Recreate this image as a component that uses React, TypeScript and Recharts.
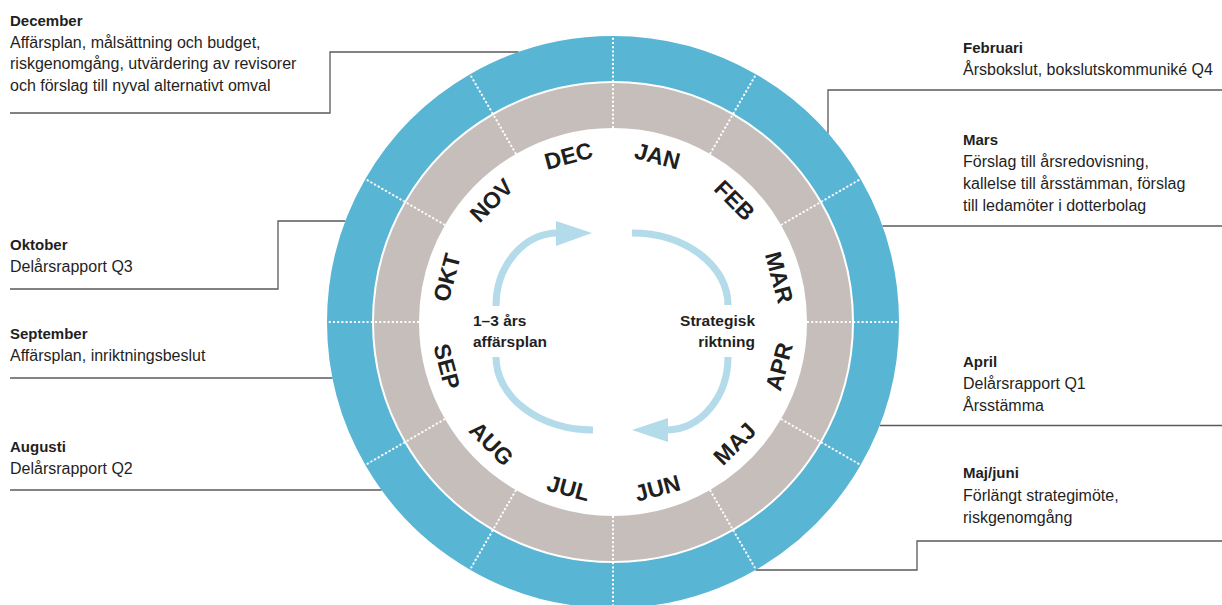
import React from 'react';
import { PieChart, Pie, Customized } from 'recharts';

// months of the year wheel, clockwise from the top
const months = ['JAN', 'FEB', 'MAR', 'APR', 'MAJ', 'JUN', 'JUL', 'AUG', 'SEP', 'OKT', 'NOV', 'DEC'];
const monthShare = [1, 1, 1, 1, 1, 1, 1, 1, 1, 1, 1, 1];

const calloutTitles = ['December', 'Oktober', 'September', 'Augusti', 'Februari', 'Mars', 'April', 'Maj/juni'];
const calloutTexts = [
  ['Affärsplan, målsättning och budget,', 'riskgenomgång, utvärdering av revisorer', 'och förslag till nyval alternativt omval'],
  ['Delårsrapport Q3'],
  ['Affärsplan, inriktningsbeslut'],
  ['Delårsrapport Q2'],
  ['Årsbokslut, bokslutskommuniké Q4'],
  ['Förslag till årsredovisning,', 'kallelse till årsstämman, förslag', 'till ledamöter i dotterbolag'],
  ['Delårsrapport Q1', 'Årsstämma'],
  ['Förlängt strategimöte,', 'riskgenomgång'],
];

const centerLeftText = ['1–3 års', 'affärsplan'];
const centerRightText = ['Strategisk', 'riktning'];

const wheelData = months.map((m, i) => ({ month: m, share: monthShare[i] }));

// layout
const W = 1222;
const H = 605;
const CX = 613;
const CY = 322;
const R_IN = 194;
const R_GRAY_OUT = 239;
const R_BLUE_IN = 241;
const R_OUT = 286;
const LABEL_R = 172;
const RAD = Math.PI / 180;

const FONT = '"Liberation Sans", Arial, sans-serif';
const BLUE = '#58b5d3';
const GRAY = '#c5bebb';
const ARROW = '#b3dbea';
const INK = '#1f1f1f';
const LEADER = '#5a5a5c';

// leader lines: fixed points, then the end on the ring (by y or by x)
const calloutLayout = [
  { x: 10, y: 26, lh: 21.5, pts: [[10, 113], [330, 113], [330, 52]], side: -1, ringY: 52 },
  { x: 10, y: 250, lh: 22, pts: [[10, 289], [278, 289], [278, 221]], side: -1, ringY: 221 },
  { x: 10, y: 339, lh: 22, pts: [[10, 378]], side: -1, ringY: 378 },
  { x: 10, y: 452, lh: 22, pts: [[10, 490]], side: -1, ringY: 490 },
  { x: 963, y: 53, lh: 22, pts: [[W, 90], [828, 90]], side: -1, ringX: 828 },
  { x: 963, y: 145, lh: 22, pts: [[W, 226]], side: 1, ringY: 226 },
  { x: 963, y: 367, lh: 22, pts: [[W, 425.5]], side: 1, ringY: 425.5 },
  { x: 963, y: 478, lh: 22.5, pts: [[W, 541], [917, 541], [917, 570]], side: 1, ringY: 570 },
];

const renderMonthLabel = (p: any) => {
  const { cx, cy, midAngle, index } = p;
  const x = cx + LABEL_R * Math.cos(midAngle * RAD);
  const y = cy - LABEL_R * Math.sin(midAngle * RAD);
  let theta = 90 - midAngle;
  theta = ((theta % 360) + 360) % 360;
  const rot = theta > 90 && theta < 270 ? theta - 180 : theta;
  return (
    <text
      key={`m-${index}`}
      x={x}
      y={y}
      textAnchor="middle"
      dominantBaseline="central"
      transform={`rotate(${rot} ${x} ${y})`}
      fontFamily={FONT}
      fontWeight={700}
      fontSize={23}
      fill={INK}
    >
      {months[index]}
    </text>
  );
};

const renderDivider = (p: any) => {
  const { cx, cy, startAngle, innerRadius, outerRadius, index } = p;
  const c = Math.cos(startAngle * RAD);
  const s = Math.sin(startAngle * RAD);
  return (
    <line
      key={`d-${index}`}
      x1={cx + innerRadius * c}
      y1={cy - innerRadius * s}
      x2={cx + outerRadius * c}
      y2={cy - outerRadius * s}
      stroke="#fff"
      strokeWidth={2}
      strokeDasharray="2 2.2"
    />
  );
};

const Annotations = () => {
  return (
    <g>
      {calloutLayout.map((c, i) => {
        const pts = c.pts.map((q) => [q[0], q[1]]);
        if (c.ringY !== undefined) {
          const dy = c.ringY - CY;
          pts.push([CX + c.side * Math.sqrt(R_OUT * R_OUT - dy * dy), c.ringY]);
        } else if (c.ringX !== undefined) {
          const dx = c.ringX - CX;
          pts.push([c.ringX, CY + c.side * Math.sqrt(R_OUT * R_OUT - dx * dx)]);
        }
        return (
          <g key={`c-${i}`}>
            <polyline
              points={pts.map((q) => q.join(',')).join(' ')}
              fill="none"
              stroke={LEADER}
              strokeWidth={1.3}
            />
            <text x={c.x} y={c.y} fontFamily={FONT} fontWeight={700} fontSize={15} fill={INK}>
              {calloutTitles[i]}
            </text>
            {calloutTexts[i].map((t, j) => (
              <text key={j} x={c.x} y={c.y + c.lh * (j + 1)} fontFamily={FONT} fontSize={16} fill={INK}>
                {t}
              </text>
            ))}
          </g>
        );
      })}

      {/* cycle arrows in the middle */}
      <g fill="none" stroke={ARROW} strokeWidth={7}>
        <path d="M 496 306 A 62 73 0 0 1 558 233" />
        <path d="M 593 430 A 97 73 0 0 1 496 357" />
        <path d="M 632 233 A 96 72 0 0 1 728 305" />
        <path d="M 728 357 A 62 73 0 0 1 667 430" />
      </g>
      <polygon points="556,221 592,233 556,246" fill={ARROW} />
      <polygon points="668,418 632,430 668,442" fill={ARROW} />

      {centerLeftText.map((t, j) => (
        <text key={`l-${j}`} x={473} y={326 + 21 * j} fontFamily={FONT} fontWeight={700} fontSize={15.5} fill={INK}>
          {t}
        </text>
      ))}
      {centerRightText.map((t, j) => (
        <text
          key={`r-${j}`}
          x={755}
          y={326 + 21 * j}
          textAnchor="end"
          fontFamily={FONT}
          fontWeight={700}
          fontSize={15.5}
          fill={INK}
        >
          {t}
        </text>
      ))}
    </g>
  );
};

export default function App() {
  return (
    <div style={{ position: 'absolute', left: 0, top: 0, width: W, height: H, background: '#fff' }}>
      <PieChart width={W} height={H} margin={{ top: 0, right: 0, bottom: 0, left: 0 }}>
        <Pie
          data={wheelData}
          dataKey="share"
          nameKey="month"
          cx={CX}
          cy={CY}
          innerRadius={R_IN}
          outerRadius={R_GRAY_OUT}
          startAngle={90}
          endAngle={-270}
          fill={GRAY}
          stroke="none"
          label={renderMonthLabel}
          labelLine={false}
          isAnimationActive={false}
        />
        <Pie
          data={wheelData}
          dataKey="share"
          nameKey="month"
          cx={CX}
          cy={CY}
          innerRadius={R_BLUE_IN}
          outerRadius={R_OUT}
          startAngle={90}
          endAngle={-270}
          fill={BLUE}
          stroke="none"
          isAnimationActive={false}
        />
        <Pie
          data={wheelData}
          dataKey="share"
          nameKey="month"
          cx={CX}
          cy={CY}
          innerRadius={R_IN}
          outerRadius={R_OUT}
          startAngle={90}
          endAngle={-270}
          fill="transparent"
          stroke="none"
          label={renderDivider}
          labelLine={false}
          isAnimationActive={false}
        />
        <Customized component={Annotations} />
      </PieChart>
    </div>
  );
}
